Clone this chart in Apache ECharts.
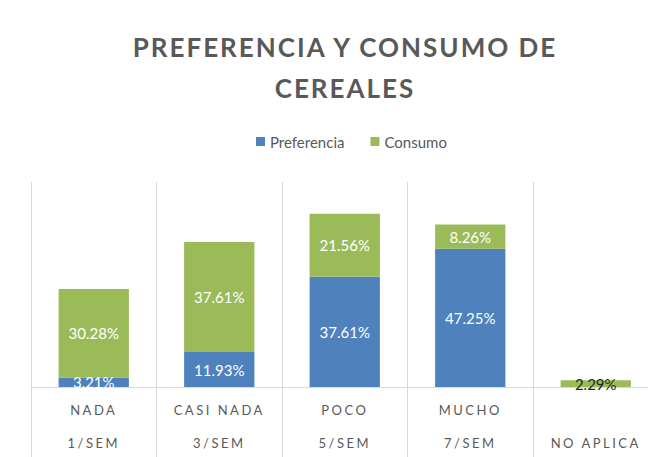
<!DOCTYPE html>
<html>
<head>
<meta charset="utf-8">
<script src="https://cdn.jsdelivr.net/npm/echarts@6/dist/echarts.min.js"></script>
<style>
  html, body { margin: 0; padding: 0; background: #fff; overflow: hidden; }
  #chart { width: 648px; height: 457px; }
  /* spaced capitals for the heading and the category labels */
  #chart svg text[style*="26px"] { letter-spacing: 2px; }
  #chart svg text[style*="13px"] { letter-spacing: 2.5px; }
</style>
</head>
<body>
<div id="chart"></div>
<script>
// Frequency categories (two-line labels)
const categories = ['NADA\n1/SEM', 'CASI NADA\n3/SEM', 'POCO\n5/SEM', 'MUCHO\n7/SEM', '\nNO APLICA'];
// Percentages per series (null = no bar)
const preferencia = [3.21, 11.93, 37.61, 47.25, null];
const consumo = [30.28, 37.61, 21.56, 8.26, 2.29];

const FONT = 'Lato';
const GREY = '#595959';
const GRID = '#D9D9D9';

const pct = p => p.value == null ? '' : p.value.toFixed(2) + '%';

const chart = echarts.init(document.getElementById('chart'), null, { renderer: 'svg' });
chart.setOption({
  backgroundColor: '#fff',
  animation: false,
  title: {
    text: 'PREFERENCIA Y CONSUMO DE\nCEREALES',
    left: 345,
    top: 26,
    padding: 0,
    textAlign: 'center',
    textStyle: { fontFamily: FONT, fontSize: 26, fontWeight: 'bold', color: GREY, lineHeight: 41 }
  },
  legend: {
    left: 256,
    top: 134,
    padding: 0,
    itemWidth: 9,
    itemHeight: 9,
    itemGap: 26,
    icon: 'rect',
    textStyle: { fontFamily: FONT, fontSize: 15, color: GREY }
  },
  // the plot runs past the right edge of the canvas; the last column is cut off
  grid: { left: 31, width: 627.5, top: 182, bottom: 70, outerBoundsMode: 'none', containLabel: false },
  xAxis: {
    type: 'category',
    data: categories,
    axisLine: { lineStyle: { color: GRID, width: 1 } },
    axisTick: { show: true, alignWithLabel: false, length: 70, lineStyle: { color: GRID } },
    splitLine: { show: true, lineStyle: { color: GRID } },
    axisLabel: { margin: 6, lineHeight: 33, fontFamily: FONT, fontSize: 13, color: GREY, interval: 0 }
  },
  yAxis: { type: 'value', min: 0, max: 70, show: false },
  series: [
    {
      name: 'Preferencia',
      type: 'bar',
      stack: 'total',
      barWidth: '56%',
      data: preferencia,
      itemStyle: { color: '#4F81BD' },
      label: { show: true, position: 'inside', formatter: pct, fontFamily: FONT, fontSize: 15, color: '#fff' }
    },
    {
      name: 'Consumo',
      type: 'bar',
      stack: 'total',
      barWidth: '56%',
      data: consumo.map((v, i) => i === 4
        ? { value: v, label: { color: '#262626' } }
        : v),
      itemStyle: { color: '#9BBB59' },
      label: { show: true, position: 'inside', formatter: pct, fontFamily: FONT, fontSize: 15, color: '#fff' }
    }
  ]
});
</script>
</body>
</html>
